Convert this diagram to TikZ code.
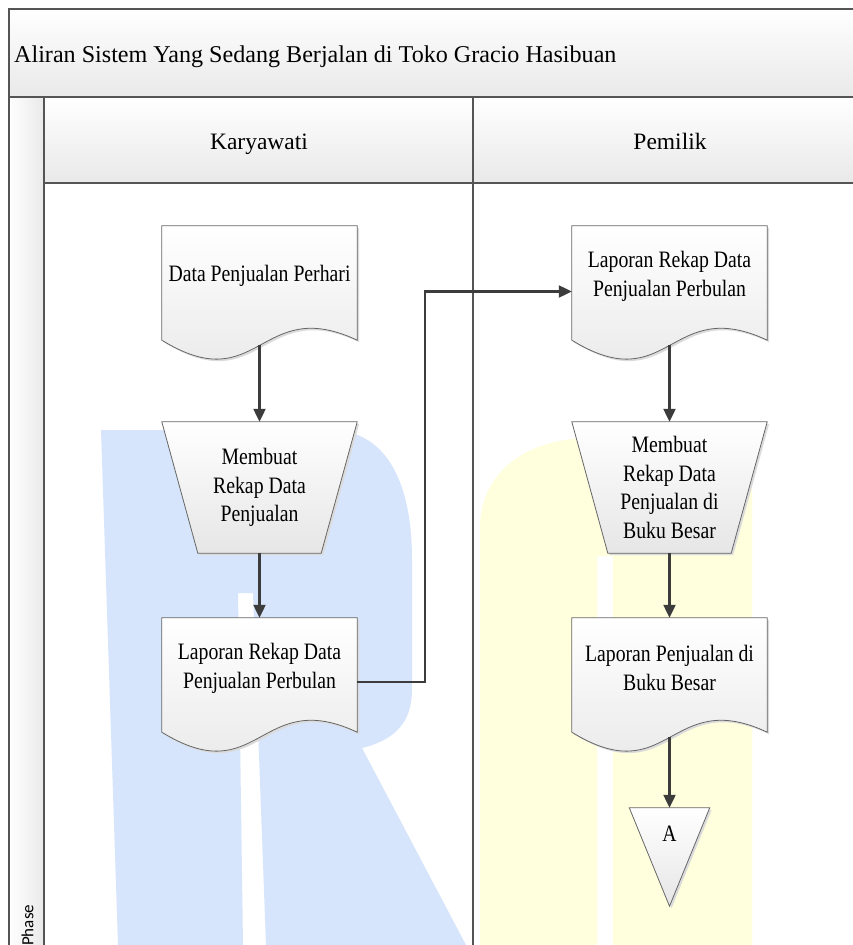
\documentclass[tikz,border=0pt]{standalone}
\usepackage{fontspec}
\setmainfont{Liberation Serif}
\newfontfamily\nodefont{Liberation Serif}[FakeStretch=0.84]
\newfontfamily\phasefont{Carlito}
\usetikzlibrary{arrows.meta,backgrounds}

\definecolor{frameline}{HTML}{555555}
\definecolor{shapeedge}{HTML}{666666}
\definecolor{shapebottom}{HTML}{E6E6E6}
\definecolor{flowline}{HTML}{3C3C3C}
\definecolor{headgray}{HTML}{E9E9E9}
\definecolor{wmblue}{RGB}{214,229,251}
\definecolor{wmyellow}{RGB}{255,255,221}

\tikzset{
  boxtext/.style={inner sep=0pt, align=center,
    font=\nodefont\fontsize{23.5pt}{28.8pt}\selectfont},
  docnode/.style={boxtext, minimum width=195pt, minimum height=100pt},
  procnode/.style={boxtext, minimum width=195pt, minimum height=131pt},
  offnode/.style={boxtext, minimum width=80pt, minimum height=52pt},
  shapeline/.style={draw=shapeedge, line width=0.8pt, top color=white,
    bottom color=shapebottom,
    preaction={fill=black!14, transform canvas={xshift=2pt,yshift=-2pt}}},
  flow/.style={draw=flowline, line width=2.2pt,
    -{Triangle[length=13pt,width=12pt]}},
  frame/.style={draw=frameline, line width=1.3pt},
  headtext/.style={inner sep=0pt, font=\fontsize{23.5pt}{28pt}\selectfont},
}

% document symbol: straight top and sides, wavy bottom edge
\newcommand\docoutline[1]{%
  \path[shapeline] (#1.north west) -- ([yshift=-14pt]#1.south west)
    .. controls ([yshift=-74pt]#1.south) and ([yshift=32pt]#1.south)
    .. ([yshift=-14pt]#1.south east) -- (#1.north east) -- cycle;}
% manual operation: trapezium narrowing downwards
\newcommand\procoutline[1]{%
  \path[shapeline] (#1.north west) -- (#1.north east)
    -- ([xshift=-36pt]#1.south east) -- ([xshift=36pt]#1.south west) -- cycle;}
% off-page connector: downward triangle
\newcommand\offoutline[1]{%
  \path[shapeline] (#1.north west) -- (#1.north east)
    -- ([yshift=-46pt]#1.south) -- cycle;}

\begin{document}
\begin{tikzpicture}[x=1pt,y=-1pt]
\useasboundingbox (0,0) rectangle (853,945);

% titles and lane headers
\node[headtext, anchor=base west, font=\fontsize{24.1pt}{28pt}\selectfont]
  (title) at (14,62.5)
  {Aliran Sistem Yang Sedang Berjalan di Toko Gracio Hasibuan};
\node[headtext, anchor=base] (lane1) at (259,149) {Karyawati};
\node[headtext, anchor=base] (lane2) at (670,149) {Pemilik};
\node[rotate=90, anchor=west, inner sep=0pt,
  font=\phasefont\fontsize{17pt}{20pt}\selectfont] (phase) at (27.5,946) {Phase};

% flow symbols
\node[docnode]  (d1) at (259.5,276) {Data Penjualan Perhari};
\node[procnode] (t1) at (259.5,487.5) {Membuat\\Rekap Data\\Penjualan};
\node[docnode]  (l2) at (259.5,668) {Laporan Rekap Data\\Penjualan Perbulan};
\node[docnode]  (r1) at (669.5,276) {Laporan Rekap Data\\Penjualan Perbulan};
\node[procnode] (t2) at (669.5,487.5) {Membuat\\Rekap Data\\Penjualan di\\Buku Besar};
\node[docnode]  (r2) at (669.5,668) {Laporan Penjualan di\\Buku Besar};
\node[offnode]  (tri) at (669.5,834) {A};

% connectors
\draw[flow] ([yshift=-19pt]d1.south) -- (t1.north);
\draw[flow] (t1.south) -- (l2.north);
\draw[flow] ([yshift=-14pt]l2.east) -- ++(68,0) |- ([yshift=-15.5pt]r1.west);
\draw[flow] ([yshift=-19pt]r1.south) -- (t2.north);
\draw[flow] (t2.south) -- (r2.north);
\draw[flow] ([yshift=-19pt]r2.south) -- (tri.north);

\begin{scope}[on background layer]
  \clip (0,0) rectangle (853,945);
  \fill[white] (0,0) rectangle (853,945);
  % faint logo marks in the lanes
  \fill[wmblue] (101,430) -- (330,430)
    .. controls (385,430) and (412,480) .. (412,560) -- (412,690)
    .. controls (412,722) and (395,740) .. (362,748)
    -- (466,945) -- (266,945) -- (253,593) -- (238,593) -- (243,945)
    -- (118,945) -- cycle;
  \fill[wmyellow] (480,945) -- (480,528)
    .. controls (480,470) and (530,438) .. (590,438) -- (700,438)
    .. controls (730,438) and (752,460) .. (752,490) -- (752,945)
    -- (613,945) -- (613,556) -- (597,556) -- (597,945) -- cycle;
  % pool frame
  \path[frame, top color=white, bottom color=headgray] (9,9) rectangle (867,97);
  \path[frame, top color=white, bottom color=headgray] (44,97) rectangle (473,183);
  \path[frame, top color=white, bottom color=headgray] (473,97) rectangle (867,183);
  \path[frame, left color=white, right color=headgray] (9,97) rectangle (44,960);
  \draw[frame] (44,183) rectangle (473,960);
  \draw[frame] (473,183) rectangle (867,960);
  % symbol outlines
  \docoutline{d1}
  \procoutline{t1}
  \docoutline{l2}
  \docoutline{r1}
  \procoutline{t2}
  \docoutline{r2}
  \offoutline{tri}
\end{scope}
\end{tikzpicture}
\end{document}
